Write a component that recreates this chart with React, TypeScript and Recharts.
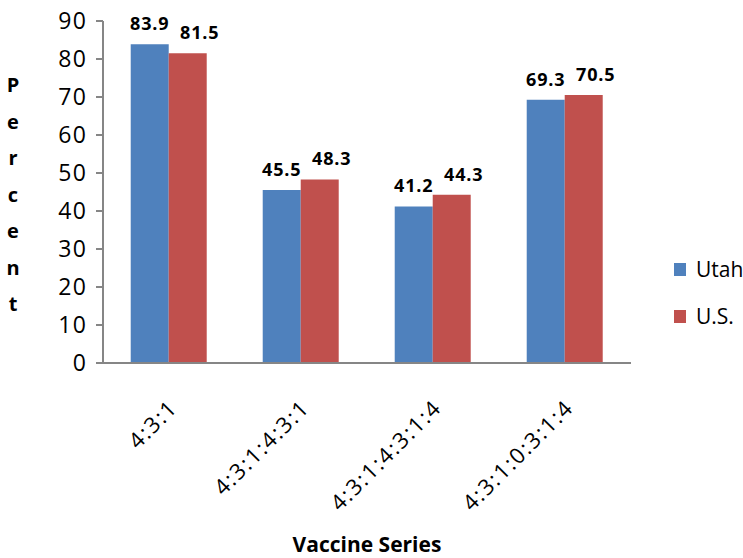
import React from "react";
import {
  BarChart,
  Bar,
  XAxis,
  YAxis,
  LabelList,
  Customized,
} from "recharts";

// Vaccine coverage, Utah vs U.S.
const categories = ["4:3:1", "4:3:1:4:3:1", "4:3:1:4:3:1:4", "4:3:1:0:3:1:4"];
const utahValues = [83.9, 45.5, 41.2, 69.3];
const usValues = [81.5, 48.3, 44.3, 70.5];
const yTicks = [0, 10, 20, 30, 40, 50, 60, 70, 80, 90];
const seriesNames = ["Utah", "U.S."];
const seriesColors = ["#4F81BD", "#C0504D"];
const yTitle = "Percent";
const xTitle = "Vaccine Series";

const data = categories.map((c, i) => ({
  name: c,
  utah: utahValues[i],
  us: usValues[i],
}));

const FONT = "'Open Sans', sans-serif";
const AXIS_COLOR = "#868686";

// rotated category label, ends just right of the category centre
const XTick = (props: any) => {
  const { x, y, payload } = props;
  return (
    <g transform={`translate(${x + 10},${y + 38})`}>
      <text
        transform="rotate(-45)"
        textAnchor="end"
        fontFamily={FONT}
        fontSize={22}
        letterSpacing={1.8}
        fill="#000"
      >
        {payload.value}
      </text>
    </g>
  );
};

// Excel-style tick marks between categories
const CategoryDividers = (props: any) => {
  const { offset } = props;
  if (!offset) return null;
  const step = offset.width / categories.length;
  const yBase = offset.top + offset.height;
  return (
    <g>
      {[0, 1, 2, 3, 4].map((k) => (
        <line
          key={k}
          x1={offset.left + k * step}
          x2={offset.left + k * step}
          y1={yBase}
          y2={yBase + 7}
          stroke={AXIS_COLOR}
          strokeWidth={2}
        />
      ))}
    </g>
  );
};

const VerticalTitle = () => (
  <text fontFamily={FONT} fontSize={20} fontWeight="bold" fill="#000" textAnchor="middle">
    {yTitle.split("").map((ch, i) => (
      <tspan key={i} x={13} y={92 + i * 36.5}>
        {ch}
      </tspan>
    ))}
  </text>
);

const labelStyle = {
  fontFamily: FONT,
  fontSize: 18,
  fontWeight: "bold",
  fill: "#000",
  letterSpacing: 0.8,
};

export default function App() {
  return (
    <div style={{ position: "absolute", left: 0, top: 0, width: 743, height: 558 }}>
      <BarChart
        width={743}
        height={558}
        data={data}
        margin={{ top: 21, right: 112, bottom: 0, left: 0 }}
        barCategoryGap="21%"
        barGap={0}
      >
        <YAxis
          width={103}
          domain={[0, 90]}
          ticks={yTicks}
          interval={0}
          axisLine={{ stroke: AXIS_COLOR, strokeWidth: 2 }}
          tickLine={{ stroke: AXIS_COLOR, strokeWidth: 2 }}
          tickSize={7}
          tickMargin={9}
          tick={{ fontFamily: FONT, fontSize: 23, fill: "#000", letterSpacing: 1.2 }}
        />
        <XAxis
          dataKey="name"
          height={195}
          interval={0}
          axisLine={{ stroke: AXIS_COLOR, strokeWidth: 2 }}
          tickLine={false}
          tick={<XTick />}
        />
        <Bar dataKey="utah" name={seriesNames[0]} fill={seriesColors[0]} isAnimationActive={false}>
          <LabelList dataKey="utah" position="top" offset={14} {...labelStyle} />
        </Bar>
        <Bar dataKey="us" name={seriesNames[1]} fill={seriesColors[1]} isAnimationActive={false}>
          <LabelList dataKey="us" position="top" offset={14} dx={12} {...labelStyle} />
        </Bar>
        <Customized component={CategoryDividers} />
        <Customized component={VerticalTitle} />
        <text
          x={367}
          y={552}
          textAnchor="middle"
          fontFamily={FONT}
          fontSize={21}
          fontWeight="bold"
          fill="#000"
        >
          {xTitle}
        </text>
      </BarChart>
      <div style={{ position: "absolute", left: 674, top: 255, fontFamily: FONT, fontSize: 21 }}>
        {seriesNames.map((n, i) => (
          <div key={n} style={{ display: "flex", alignItems: "center", height: 28, marginBottom: 19 }}>
            <span
              style={{ width: 12, height: 13, background: seriesColors[i], display: "inline-block", marginRight: 10 }}
            />
            <span>{n}</span>
          </div>
        ))}
      </div>
    </div>
  );
}
